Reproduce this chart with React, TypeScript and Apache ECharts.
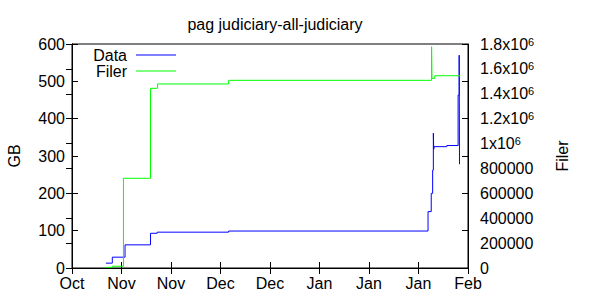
import React, { useEffect, useRef } from "react";
import * as echarts from "echarts";

// Day offsets from the first x tick (Oct 24)
const BASE_DATE = Date.UTC(2012, 9, 24);
const MONTHS = ["Jan", "Feb", "Mar", "Apr", "May", "Jun", "Jul", "Aug", "Sep", "Oct", "Nov", "Dec"];
const X_MIN = 0;
const X_MAX = 112;
const X_STEP = 14;

// Data series (GB, left axis)
const dataDays = [9.6, 11.4, 15.0, 22.2, 24.1, 44.3, 100.7, 101.6, 102.0, 102.2, 102.3, 102.4, 106.0, 109.2, 109.5, 109.6];
const dataGB = [13, 29, 62, 93, 96, 99, 151, 200, 262, 361, 318, 325, 328, 463, 570, 278];

// Filer series (count, right axis)
const filerDays = [9.6, 11.4, 14.55, 22.2, 24.2, 44.3, 101.7, 101.8, 102.6, 109.8];
const filerCount = [5000, 14000, 721000, 1444000, 1479000, 1508000, 1778000, 1524000, 1545000, 1545000];

const TITLE = "pag judiciary-all-judiciary";
const FONT = "Liberation Sans, Arial, sans-serif";
const FS = 16;
const LINE_ICON = "path://M0,0h40v1.2h-40z";

export default function App() {
  const ref = useRef<HTMLDivElement>(null);
  useEffect(() => {
    document.body.style.margin = "0";
    const chart = echarts.init(ref.current!, null, { renderer: "svg" });
    const tickStyle = { show: true, inside: true, length: 6, lineStyle: { color: "#000", width: 1 } };
    const axisLine = { show: true, lineStyle: { color: "#000", width: 1 } };
    const textBase = { fontFamily: FONT, fontSize: FS, color: "#000" };
    chart.setOption({
      animation: false,
      backgroundColor: "#fff",
      textStyle: { fontFamily: FONT },
      title: {
        text: TITLE,
        left: 270,
        textAlign: "center",
        top: 11,
        textStyle: { ...textBase, fontWeight: "normal" },
      },
      grid: { left: 72, right: 132, top: 44, bottom: 32, show: true, borderColor: "#000", borderWidth: 1, outerBoundsMode: "none" },
      legend: {
        orient: "vertical",
        left: 86,
        top: 47,
        align: "right",
        itemGap: 0,
        itemWidth: 40,
        itemHeight: 14,
        padding: 0,
        icon: LINE_ICON,
        data: ["Data", "Filer"],
        textStyle: { ...textBase, width: 41, align: "right", lineHeight: 14, padding: [0, 4, 0, 0] },
      },
      xAxis: [
        {
          type: "value",
          min: X_MIN,
          max: X_MAX,
          interval: X_STEP,
          axisLine,
          axisTick: tickStyle,
          splitLine: { show: false },
          axisLabel: {
            ...textBase,
            lineHeight: 12,
            margin: 9,
            showMinLabel: true,
            showMaxLabel: true,
            formatter: (v: number) => MONTHS[new Date(BASE_DATE + v * 86400000).getUTCMonth()],
          },
        },
        {
          type: "value",
          position: "top",
          min: X_MIN,
          max: X_MAX,
          interval: X_STEP,
          axisLine,
          axisTick: tickStyle,
          splitLine: { show: false },
          axisLabel: { show: false },
        },
      ],
      yAxis: [
        {
          type: "value",
          min: 0,
          max: 600,
          interval: 100,
          position: "left",
          name: "GB",
          nameLocation: "middle",
          nameRotate: 90,
          nameGap: 50,
          nameTextStyle: textBase,
          axisLine,
          axisTick: tickStyle,
          splitLine: { show: false },
          axisLabel: { ...textBase, lineHeight: 12, margin: 7 },
        },
        {
          type: "value",
          min: 0,
          max: 1800000,
          interval: 200000,
          position: "right",
          name: "Filer",
          nameLocation: "middle",
          nameRotate: 90,
          nameGap: 86,
          nameTextStyle: textBase,
          axisLine,
          axisTick: tickStyle,
          splitLine: { show: false },
          axisLabel: {
            ...textBase,
            margin: 12,
            formatter: (v: number) => (v >= 1000000 ? `{m|${v / 1000000}x10}{s|6}` : `{m|${v}}`),
            rich: {
              m: { fontFamily: FONT, fontSize: FS, color: "#000", lineHeight: 16, padding: [4, 0, 4, 0], verticalAlign: "middle" },
              s: { fontFamily: FONT, fontSize: 11, color: "#000", lineHeight: 11, verticalAlign: "top" },
            },
          },
        },
        {
          type: "value",
          min: 0,
          max: 600,
          interval: 100,
          position: "right",
          axisLine,
          axisTick: tickStyle,
          splitLine: { show: false },
          axisLabel: { show: false },
        },
      ],
      series: [
        {
          name: "Data",
          type: "line",
          step: "end",
          yAxisIndex: 0,
          symbol: "none",
          color: "#0000ff",
          lineStyle: { color: "#0000ff", width: 1 },
          data: dataDays.map((d, i) => [d, dataGB[i]]),
        },
        {
          name: "Filer",
          type: "line",
          step: "end",
          yAxisIndex: 1,
          symbol: "none",
          color: "#00ff00",
          lineStyle: { color: "#00ff00", width: 1 },
          data: filerDays.map((d, i) => [d, filerCount[i]]),
        },
      ],
    });
    return () => chart.dispose();
  }, []);
  return <div ref={ref} style={{ width: 600, height: 300 }} />;
}
